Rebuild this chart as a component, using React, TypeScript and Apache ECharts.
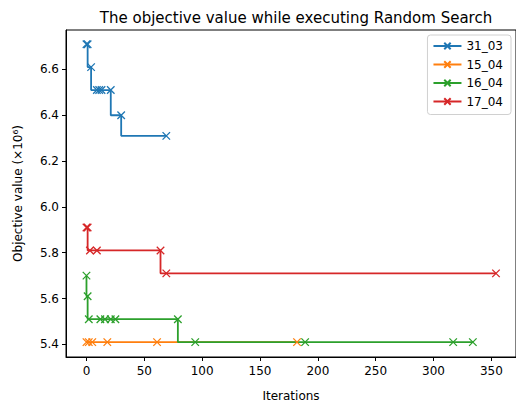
import React, { useEffect, useRef } from "react";
import * as echarts from "echarts";

const seriesNames = ["31_03", "15_04", "16_04", "17_04"];
const colors = ["#1f77b4", "#ff7f0e", "#2ca02c", "#d62728"];

const iter3103 = [0, 1, 4, 9, 11, 13, 21, 30, 69];
const obj3103 = [6.71, 6.71, 6.61, 6.51, 6.51, 6.51, 6.51, 6.40, 6.31];

const iter1504 = [0, 2, 5, 18, 61, 182];
const obj1504 = [5.41, 5.41, 5.41, 5.41, 5.41, 5.41];

const iter1604 = [0, 1, 2, 12, 16, 21, 25, 79, 94, 189, 317, 334];
const obj1604 = [5.70, 5.61, 5.51, 5.51, 5.51, 5.51, 5.51, 5.51, 5.41, 5.41, 5.41, 5.41];

const iter1704 = [0, 1, 3, 9, 64, 69, 354];
const obj1704 = [5.91, 5.91, 5.81, 5.81, 5.81, 5.71, 5.71];

const xTicks = [0, 50, 100, 150, 200, 250, 300, 350];
const yTicks = [5.4, 5.6, 5.8, 6.0, 6.2, 6.4, 6.6];

const allIters = [iter3103, iter1504, iter1604, iter1704];
const allObjs = [obj3103, obj1504, obj1604, obj1704];

const FONT = "DejaVu Sans";

export default function App() {
  const ref = useRef<HTMLDivElement>(null);
  useEffect(() => {
    if (!ref.current) return;
    const chart = echarts.init(ref.current, null, { renderer: "svg" });
    const series = seriesNames.map((name, i) => ({
      name,
      type: "line",
      step: "start",
      data: allIters[i].map((x, j) => [x, allObjs[i][j]]),
      symbol: "path://M0,0L10,10M10,0L0,10",
      symbolSize: 7.5,
      showSymbol: true,
      lineStyle: { color: colors[i], width: 1.8 },
      itemStyle: { color: colors[i], borderColor: colors[i], borderWidth: 1.3 },
      emphasis: { disabled: true },
    }));
    chart.setOption({
      animation: false,
      title: {
        text: "The objective value while executing Random Search",
        left: 291,
        textAlign: "center",
        top: 5,
        textStyle: { fontFamily: FONT, fontSize: 15, fontWeight: "normal", color: "#000" },
      },
      legend: {
        data: seriesNames,
        orient: "vertical",
        right: 5,
        top: 35,
        itemWidth: 28,
        itemHeight: 8,
        itemGap: 6.5,
        padding: [5, 8, 7, 5],
        borderColor: "#d0d0d0",
        borderWidth: 1,
        borderRadius: 3,
        backgroundColor: "#fff",
        textStyle: { fontFamily: FONT, fontSize: 12, color: "#000" },
      },
      grid: { left: 66, top: 30, width: 452, height: 337, show: true, borderColor: "#000", borderWidth: 1 },
      xAxis: {
        type: "value",
        min: -17.7,
        max: 371.3,
        name: "Iterations",
        nameLocation: "middle",
        nameGap: 33,
        nameTextStyle: { fontFamily: FONT, fontSize: 12, color: "#000" },
        splitLine: { show: false },
        axisLine: { show: true, onZero: false, lineStyle: { color: "#000" } },
        axisTick: { show: true, inside: false, length: 4, lineStyle: { color: "#000" }, customValues: xTicks },
        axisLabel: { fontFamily: FONT, fontSize: 12, color: "#000", margin: 8, customValues: xTicks },
      },
      yAxis: {
        type: "value",
        min: 5.345,
        max: 6.772,
        name: "Objective value (×10⁶)",
        nameLocation: "middle",
        nameGap: 42,
        nameRotate: 90,
        nameTextStyle: { fontFamily: FONT, fontSize: 12, color: "#000" },
        splitLine: { show: false },
        axisLine: { show: true, onZero: false, lineStyle: { color: "#000" } },
        axisTick: { show: true, inside: false, length: 4, lineStyle: { color: "#000" }, customValues: yTicks },
        axisLabel: {
          fontFamily: FONT,
          fontSize: 12,
          color: "#000",
          margin: 7,
          customValues: yTicks,
          formatter: (v: number) => v.toFixed(1),
        },
      },
      series,
    });
    return () => chart.dispose();
  }, []);
  return <div ref={ref} style={{ width: 516, height: 407, position: "absolute", left: 0, top: 0 }} />;
}
